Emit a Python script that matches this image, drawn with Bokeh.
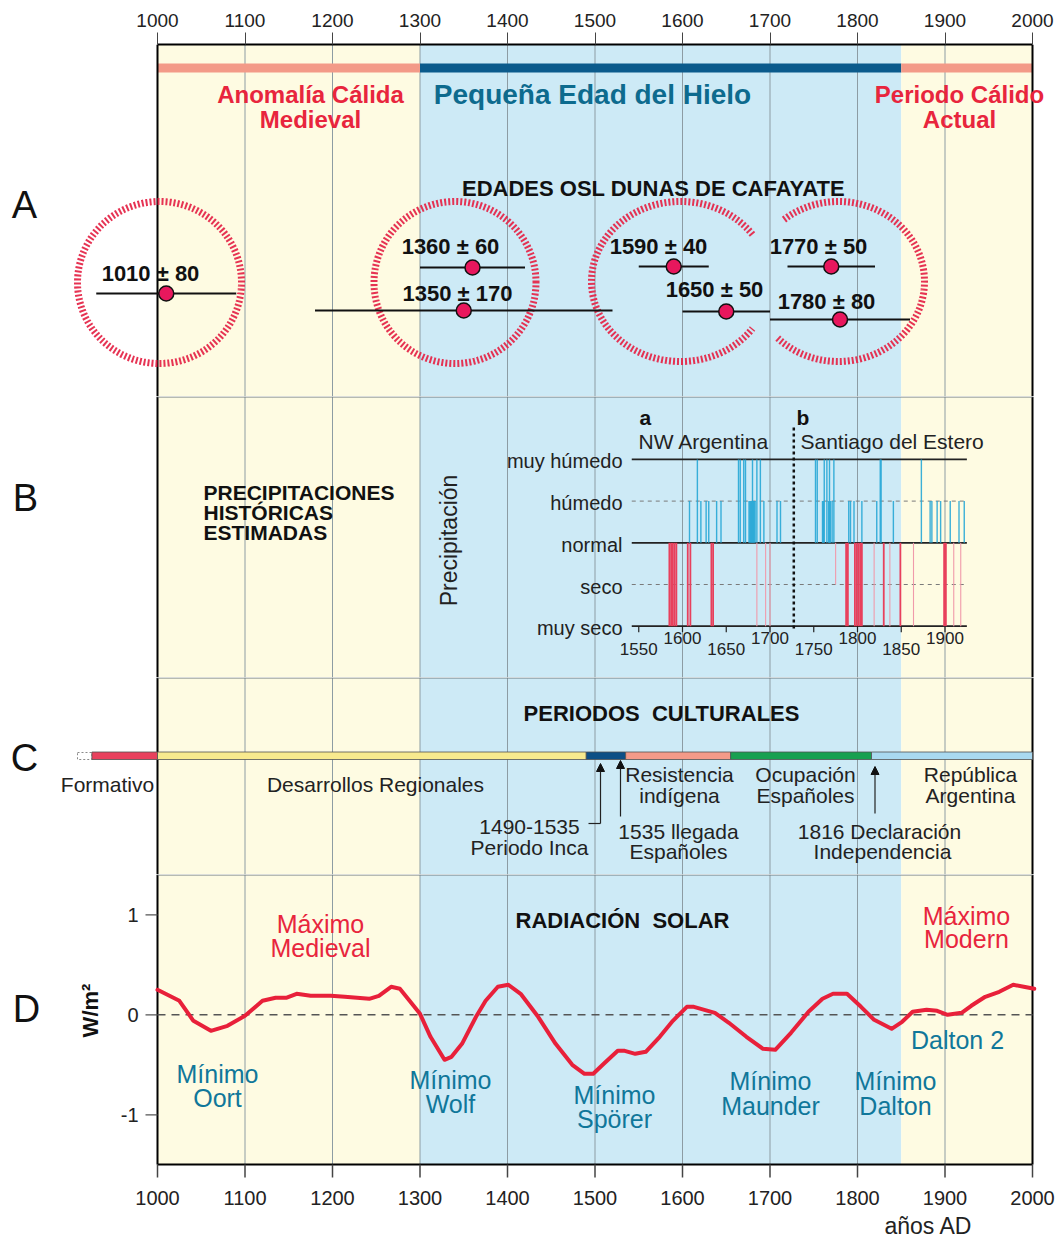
import numpy as np
from bokeh.plotting import figure
from bokeh.layouts import column
from bokeh.models import Range1d, FixedTicker, Arrow, NormalHead, ColumnDataSource
from bokeh.core.properties import value
from bokeh.embed import file_html
from bokeh.resources import INLINE

# ------------------------------------------------------------------ data
axis_years = [1000, 1100, 1200, 1300, 1400, 1500, 1600, 1700, 1800, 1900, 2000]
grid_years = axis_years[1:-1]

era_start = [1000, 1300, 1850]
era_end = [1300, 1850, 2000]
era_bg = ["#fefbe2", "#cdeaf6", "#fefbe2"]
era_bar = ["#f39a88", "#0b5b8c", "#f39a88"]

osl_age = [1010, 1360, 1350, 1590, 1650, 1770, 1780]
osl_err = [80, 60, 170, 40, 50, 50, 80]

precip_levels = [2, 1, 0, -1, -2]
precip_labels = ["muy húmedo", "húmedo", "normal", "seco", "muy seco"]
inset_ticks = [1550, 1600, 1650, 1700, 1750, 1800, 1850, 1900]

wet_years = [1608, 1617, 1621, 1627, 1630, 1639, 1644, 1664, 1666, 1670, 1672, 1676, 1677,
             1678, 1679, 1680, 1681, 1682, 1683, 1685, 1689, 1693, 1708, 1712, 1752, 1754,
             1760, 1761, 1762, 1765, 1767, 1768, 1769, 1771, 1773, 1790, 1792, 1796, 1805,
             1822, 1826, 1827, 1841, 1873, 1883, 1885, 1891, 1895, 1906, 1916, 1922]
wet_levels = [1, 2, 1, 1, 1, 1, 1, 2, 2, 2, 2, 1, 1,
              1, 1, 2, 1, 1, 1, 2, 2, 1, 1, 1, 2, 2,
              1, 1, 2, 2, 1, 2, 1, 1, 2, 1, 1, 1, 1,
              1, 2, 2, 1, 2, 1, 1, 1, 1, 1, 1, 1]
dry_years = [1585, 1587, 1589, 1591, 1593, 1606, 1609, 1633, 1635, 1787, 1789, 1797, 1799,
             1801, 1803, 1805, 1830, 1849, 1899, 1901]
dry_levels = [-2] * len(dry_years)
dry_faint_years = [1685, 1695, 1700, 1775, 1819, 1837, 1864, 1910, 1918]
dry_faint_levels = [-2, -2, -2, -1, -2, -2, -2, -2, -2]

culture_start = [925, 1000, 1490, 1535, 1655, 1816]
culture_end = [1000, 1490, 1535, 1655, 1816, 2000]
culture_colors = ["#e8415d", "#f8ea8e", "#0d4f85", "#f39a88", "#17a050", "#a9d9f0"]

solar_years = [1000, 1025, 1041, 1061, 1080, 1100, 1120, 1135, 1147, 1159, 1175, 1198, 1214,
               1242, 1253, 1267, 1277, 1289, 1300, 1312, 1328, 1336, 1348, 1364, 1375, 1389,
               1401, 1415, 1435, 1455, 1474, 1488, 1498, 1510, 1526, 1534, 1546, 1558, 1574,
               1589, 1605, 1613, 1637, 1653, 1673, 1692, 1706, 1724, 1744, 1760, 1772, 1788,
               1804, 1819, 1839, 1851, 1863, 1879, 1891, 1903, 1919, 1930, 1946, 1962, 1978,
               1990, 2002]
solar_values = [0.25, 0.14, -0.06, -0.16, -0.11, -0.01, 0.14, 0.17, 0.17, 0.21, 0.19, 0.19, 0.18,
                0.16, 0.19, 0.28, 0.26, 0.13, 0.01, -0.22, -0.45, -0.42, -0.29, -0.02, 0.14, 0.28,
                0.30, 0.21, -0.02, -0.29, -0.50, -0.59, -0.59, -0.49, -0.36, -0.36, -0.39, -0.37, -0.22,
                -0.06, 0.08, 0.08, 0.02, -0.08, -0.22, -0.34, -0.35, -0.18, 0.03, 0.16, 0.21, 0.21,
                0.08, -0.05, -0.14, -0.07, 0.03, 0.05, 0.04, 0.00, 0.02, 0.09, 0.18, 0.23, 0.30,
                0.28, 0.26]
solar_ticks = [1, 0, -1]

# ------------------------------------------------------------------ layout helpers
FONT = "Liberation Sans"
W = 1060
PPY = 0.875                      # pixels per year
LEFT0 = 157                      # canvas px of year 1000
XS = 1000 - LEFT0 / PPY
XE = XS + W / PPY
RED = "#e8253d"
TEAL = "#10779a"
XR = Range1d(XS, XE)
NB = "\u00a0"


def X(px):
    """canvas x pixel -> year (layout helper for annotations)"""
    return 1000 + (px - LEFT0) / PPY


def txt(p, xs_px, ys, texts, size, color="#111111", bold=False, align="center",
        angle=0.0, rname="default", baseline="middle"):
    src = ColumnDataSource(dict(x=[X(v) for v in xs_px], y=list(ys), text=list(texts)))
    p.text(x="x", y="y", text="text", source=src, text_font=value(FONT),
           text_font_size=f"{size}px", text_font_style="bold" if bold else "normal",
           text_color=color, text_align=align, text_baseline=baseline, angle=angle,
           y_range_name=rname)


def base_fig(height, y_range, **kw):
    p = figure(width=W, height=height, x_range=XR, y_range=y_range,
               toolbar_location=None, output_backend="svg",
               outline_line_color=None, background_fill_color="white",
               border_fill_color="white", min_border_left=0, min_border_right=0,
               min_border_bottom=0, **kw)
    p.xgrid.visible = False
    p.ygrid.visible = False
    return p


def backdrop(p, top, bottom, rname="default"):
    p.quad(left=era_start, right=era_end, top=top, bottom=bottom, fill_color=era_bg,
           line_color=None, y_range_name=rname)
    p.segment(x0=grid_years, x1=grid_years, y0=[top] * len(grid_years),
              y1=[bottom] * len(grid_years), line_color="#8d9ca3", line_width=1,
              y_range_name=rname)


def frame_sides(p, top, bottom, rname="default"):
    p.segment(x0=[1000, 2000], x1=[1000, 2000], y0=[top, top], y1=[bottom, bottom],
              line_color="black", line_width=2, y_range_name=rname)


def separator(p, y, rname="default"):
    p.segment(x0=[1000], x1=[2000], y0=[y], y1=[y], line_color="#6f7b80", line_width=1,
              y_range_name=rname)


# ================================================================== panel A
pA = base_fig(396, Range1d(396, 44), x_axis_location="above", y_axis_location=None,
              min_border_top=44)
ax = pA.xaxis[0]
ax.ticker = FixedTicker(ticks=axis_years)
ax.bounds = (1000, 2000)
ax.axis_line_width = 2
ax.axis_line_color = "black"
ax.major_tick_in = 0
ax.major_tick_out = 12
ax.major_tick_line_color = "#444444"
ax.minor_tick_line_color = None
ax.major_label_text_font = FONT
ax.major_label_text_font_size = "19px"
ax.major_label_text_color = "#222222"
ax.major_label_standoff = 6

backdrop(pA, 44, 396)
pA.quad(left=era_start, right=era_end, top=63, bottom=72, fill_color=era_bar, line_color=None)
frame_sides(pA, 44, 396)

txt(pA, [310, 959], [94, 94], ["Anomalía Cálida", "Periodo Cálido"], 24, RED, bold=True)
txt(pA, [310, 959], [119, 119], ["Medieval", "Actual"], 24, RED, bold=True)
txt(pA, [592], [94], ["Pequeña Edad del Hielo"], 28, "#0d6b8e", bold=True)
txt(pA, [653], [188], ["EDADES OSL DUNAS DE CAFAYATE"], 22, "#111111", bold=True)
txt(pA, [24], [204], ["A"], 38, "#111111")

# hatched rings (center px, center y, rx, ry, start deg, end deg)
rings = [(159, 282, 82, 81, 0, 360), (454.5, 282, 81, 81, 0, 360),
         (680, 281, 89, 80, 36, 324), (838, 281, 86, 80, 225, 490)]
for cx, cy, rx, ry, a0, a1 in rings:
    t = np.radians(np.linspace(a0, a1, 300))
    pA.line(x=[X(v) for v in cx + rx * np.cos(t)], y=cy - ry * np.sin(t),
            line_color="#e5284a", line_width=7, line_dash="2 2", line_alpha=0.95)

row_y = [293, 267, 310, 266, 311, 266, 319]
osl_lo = [a - e for a, e in zip(osl_age, osl_err)]
osl_hi = [a + e for a, e in zip(osl_age, osl_err)]
pA.segment(x0=osl_lo, x1=osl_hi, y0=row_y, y1=row_y, line_color="#111111", line_width=2)
pA.scatter(x=osl_age, y=row_y, size=15, fill_color="#e8175d", line_color="#111111",
           line_width=1.5)
lab_x = [150, 450, 457, 658, 714, 818, 826]
lab_y = [273, 246, 293, 246, 289, 246, 301]
txt(pA, lab_x, lab_y, [f"{a} ± {e}" for a, e in zip(osl_age, osl_err)], 22, "#111111",
    bold=True)

# ================================================================== panel B
LEV0, LEVPX = 542.3, 41.7
pB = base_fig(281, Range1d((LEV0 - 677) / LEVPX, (LEV0 - 396) / LEVPX),
              x_axis_location=None, y_axis_location=None, min_border_top=0)
pB.extra_y_ranges = {"px": Range1d(677, 396)}
backdrop(pB, 396, 677, "px")
frame_sides(pB, 396, 677, "px")
separator(pB, 396.5, "px")

txt(pB, [25], [497], ["B"], 38, "#111111", rname="px")
txt(pB, [203, 203, 203], [492, 512, 532],
    ["PRECIPITACIONES", "HISTÓRICAS", "ESTIMADAS"], 21, "#111111", bold=True,
    align="left", rname="px")
txt(pB, [448], [540], ["Precipitación"], 23, "#222222", angle=np.pi / 2, rname="px")

IX0, IX1 = 1542, 1925
pB.segment(x0=[IX0] * 3, x1=[IX1] * 3, y0=[2, 0, -2], y1=[2, 0, -2], line_color="#222222",
           line_width=1.8)
pB.segment(x0=[IX0] * 2, x1=[IX1] * 2, y0=[1, -1], y1=[1, -1], line_color="#7a7a7a",
           line_width=1, line_dash="4 4")
pB.segment(x0=wet_years, x1=wet_years, y0=[0] * len(wet_years), y1=wet_levels,
           line_color="#27a7d6", line_width=1.4, line_alpha=0.9)
pB.segment(x0=dry_faint_years, x1=dry_faint_years, y0=[0] * len(dry_faint_years),
           y1=dry_faint_levels, line_color="#f09aab", line_width=1.1)
pB.segment(x0=dry_years, x1=dry_years, y0=[0] * len(dry_years), y1=dry_levels,
           line_color="#e8405c", line_width=1.8)
pB.segment(x0=inset_ticks, x1=inset_ticks, y0=[-2] * len(inset_ticks),
           y1=[-2 - 6 / LEVPX] * len(inset_ticks), line_color="#222222", line_width=1.2)
pB.segment(x0=[X(793.3)], x1=[X(793.3)], y0=[(LEV0 - 427) / LEVPX],
           y1=[(LEV0 - 631) / LEVPX], line_color="#111111", line_width=2.5, line_dash="3 3")

src_yl = ColumnDataSource(dict(x=[X(622)] * 5, y=precip_levels, text=precip_labels))
pB.text(x="x", y="y", text="text", source=src_yl, text_font=value(FONT),
        text_font_size="20px", text_color="#222222", text_align="right",
        text_baseline="middle", y_offset=2)
src_xt = ColumnDataSource(dict(
    x=inset_ticks,
    y=[(LEV0 - (648 if i % 2 == 0 else 637)) / LEVPX for i in range(len(inset_ticks))],
    text=[str(v) for v in inset_ticks]))
pB.text(x="x", y="y", text="text", source=src_xt, text_font=value(FONT),
        text_font_size="17px", text_color="#222222", text_align="center",
        text_baseline="middle")
txt(pB, [639, 796], [417, 417], ["a", "b"], 21, "#111111", bold=True, align="left", rname="px")
txt(pB, [638, 800], [441, 441], ["NW Argentina", "Santiago del Estero"], 21, "#222222",
    align="left", rname="px")

# ================================================================== panel C
pC = base_fig(197, Range1d(874, 677), x_axis_location=None, y_axis_location=None,
              min_border_top=0)
backdrop(pC, 677, 874)
frame_sides(pC, 677, 874)
separator(pC, 677.5)

txt(pC, [24], [757], ["C"], 38, "#111111")
txt(pC, [661], [713], ["PERIODOS" + NB + " CULTURALES"], 22, "#111111", bold=True)
pC.quad(left=[X(77)], right=[culture_start[0]], top=[752], bottom=[759], fill_color=None,
        line_color="#8a8a8a", line_width=1, line_dash="2 2")
pC.quad(left=culture_start, right=culture_end, top=751.5, bottom=759,
        fill_color=culture_colors, line_color="#505050", line_width=0.8)

txt(pC, [107, 375], [784, 784], ["Formativo", "Desarrollos Regionales"], 21, "#222222")
txt(pC, [679, 805, 970], [774, 774, 774], ["Resistencia", "Ocupación", "República"], 21,
    "#222222")
txt(pC, [679, 805, 970], [795, 795, 795], ["indígena", "Españoles", "Argentina"], 21,
    "#222222")
txt(pC, [529, 529], [826, 847], ["1490-1535", "Periodo Inca"], 21, "#222222")
txt(pC, [678, 678], [831, 851], ["1535 llegada", "Españoles"], 21, "#222222")
txt(pC, [879, 882], [831, 851], ["1816 Declaración", "Independencia"], 21, "#222222")

pC.segment(x0=[X(588)], x1=[X(600)], y0=[823], y1=[823], line_color="#222222",
           line_width=1.2)
for xa, y0, y1 in [(600, 823, 763), (620, 816, 760), (874.5, 813, 766)]:
    pC.add_layout(Arrow(end=NormalHead(size=8, fill_color="#111111", line_color="#111111",
                                       line_width=1),
                        x_start=X(xa), y_start=y0, x_end=X(xa), y_end=y1,
                        line_color="#222222", line_width=1.2))

# ================================================================== panel D
Y0D = 1014.3          # canvas row of 0 W/m2
PXW = 100.0           # px per W/m2
YBOT = 1237
pD = base_fig(YBOT - 874, Range1d((Y0D - YBOT) / PXW, (Y0D - 874) / PXW),
              x_axis_location=None, y_axis_location=None, min_border_top=0)
pD.extra_y_ranges = {"px": Range1d(YBOT, 874)}
backdrop(pD, 874, 1164, "px")
frame_sides(pD, 874, 1164, "px")
separator(pD, 874.5, "px")
pD.segment(x0=[1000], x1=[2000], y0=[1164], y1=[1164], line_color="black", line_width=2,
           y_range_name="px")

# x axis (bottom) ticks + labels
pD.segment(x0=axis_years, x1=axis_years, y0=[1164] * len(axis_years),
           y1=[1177] * len(axis_years), line_color="#444444", line_width=1.5, y_range_name="px")
src_bx = ColumnDataSource(dict(x=axis_years, y=[1197] * len(axis_years),
                               text=[str(v) for v in axis_years]))
pD.text(x="x", y="y", text="text", source=src_bx, text_font=value(FONT),
        text_font_size="20px", text_color="#222222", text_align="center",
        text_baseline="middle", y_range_name="px")
txt(pD, [928], [1225], ["años AD"], 23, "#222222", rname="px")

# y axis (left) ticks + labels
pD.segment(x0=[X(145)] * 3, x1=[1000] * 3, y0=solar_ticks, y1=solar_ticks,
           line_color="#555555", line_width=1.2)
src_yt = ColumnDataSource(dict(x=[X(138)] * 3, y=solar_ticks, text=[str(v) for v in solar_ticks]))
pD.text(x="x", y="y", text="text", source=src_yt, text_font=value(FONT),
        text_font_size="20px", text_color="#222222", text_align="right",
        text_baseline="middle")
txt(pD, [90], [1010], ["W/m²"], 22, "#111111", bold=True, angle=np.pi / 2, rname="px")
txt(pD, [26], [1008], ["D"], 38, "#111111", rname="px")

pD.segment(x0=[1000], x1=[2000], y0=[0], y1=[0], line_color="#555555", line_width=1.5,
           line_dash="8 6")
pD.line(x=solar_years, y=solar_values, line_color="#e8203a", line_width=4,
        line_join="round", line_cap="round")

txt(pD, [622], [920], ["RADIACIÓN" + NB + " SOLAR"], 22, "#111111", bold=True, rname="px")
txt(pD, [320, 320, 966, 966], [923, 947, 915, 938], ["Máximo", "Medieval", "Máximo", "Modern"],
    25, RED, rname="px")
txt(pD, [217, 450, 614, 770, 895], [1073, 1079, 1094, 1080, 1080],
    ["Mínimo"] * 5, 25, TEAL, rname="px")
txt(pD, [217, 450, 614, 770, 895], [1097, 1103, 1118, 1105, 1105],
    ["Oort", "Wolf", "Spörer", "Maunder", "Dalton"], 25, TEAL, rname="px")
txt(pD, [957], [1039], ["Dalton 2"], 25, TEAL, rname="px")

layout = column(pA, pB, pC, pD, spacing=0)
open("out.html", "w").write(file_html(layout, INLINE))
